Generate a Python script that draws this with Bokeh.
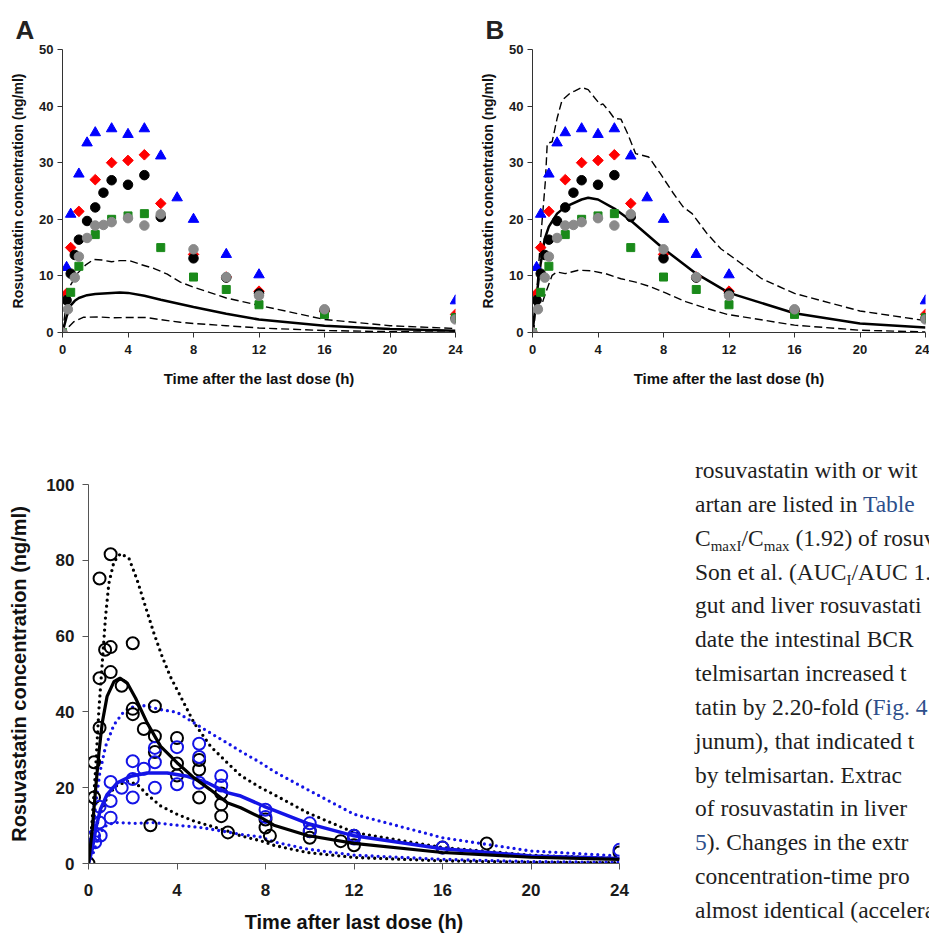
from bokeh.plotting import figure
from bokeh.models import Div, FixedTicker
from bokeh.layouts import row, column
from bokeh.embed import file_html
from bokeh.resources import INLINE

# ---------------- data: panels A and B (observed, 5 subjects) ----------------
blue_t = [0.25, 0.5, 1, 1.5, 2, 3, 4, 5, 6, 7, 8, 10, 12, 24]
blue_y = [11.5, 20.9, 28.0, 33.5, 35.3, 36.0, 35.0, 36.0, 31.2, 23.8, 20.0, 13.8, 10.2, 5.6]
red_t = [0, 0.25, 0.5, 1, 2, 3, 4, 5, 6, 8, 10, 12, 16, 24]
red_y = [0, 6.9, 15.0, 21.4, 27.0, 30.0, 30.4, 31.4, 22.8, 13.8, 9.8, 7.3, 3.8, 3.2]
black_t = [0.25, 0.5, 0.75, 1, 1.5, 2, 2.5, 3, 4, 5, 6, 8, 10, 12, 16, 24]
black_y = [5.7, 10.4, 13.7, 16.4, 19.7, 22.1, 24.7, 26.9, 26.1, 27.8, 20.4, 13.1, 9.7, 6.9, 3.9, 2.5]
green_t = [0, 0.5, 1, 2, 3, 4, 5, 6, 8, 10, 12, 16, 24]
green_y = [0, 7.1, 11.7, 17.3, 20.0, 20.6, 21.0, 15.0, 9.8, 7.6, 4.9, 3.2, 2.6]
gray_t = [0, 0.33, 0.75, 1, 1.5, 2, 2.5, 3, 4, 5, 6, 8, 10, 12, 16, 24]
gray_y = [0, 4.1, 9.7, 13.4, 16.7, 18.9, 19.0, 19.5, 20.2, 18.9, 20.9, 14.7, 9.8, 6.5, 4.1, 2.3]

# panel A predictions
a_mean_t = [0, 0.25, 0.5, 0.75, 1, 1.5, 2, 3, 3.5, 4, 5, 6, 8, 10, 12, 16, 20, 24]
a_mean_y = [0, 2.8, 4.8, 5.6, 6.1, 6.6, 6.8, 7.0, 7.05, 7.0, 6.5, 5.8, 4.5, 3.3, 2.3, 1.2, 0.6, 0.3]
a_hi_t = [0, 0.25, 0.5, 0.9, 1.4, 1.9, 2.4, 3.0, 3.5, 4.1, 4.8, 5.6, 6.4, 7.2, 8, 10, 12, 16, 20, 24]
a_hi_y = [0, 5.5, 8.4, 10.4, 11.9, 12.9, 12.8, 12.5, 12.7, 12.7, 12.0, 11.3, 10.3, 8.9, 8.0, 6.1, 4.8, 2.3, 1.2, 0.7]
a_lo_t = [0.39, 0.69, 1.3, 2.2, 3, 3.9, 5.1, 5.9, 7.2, 8, 10, 12, 16, 20, 24]
a_lo_y = [1.0, 1.9, 2.7, 2.75, 2.6, 2.65, 2.65, 2.3, 1.8, 1.6, 1.2, 0.8, 0.35, 0.15, 0.05]

# panel B predictions
b_mean_t = [0, 0.25, 0.5, 0.75, 1, 1.5, 2, 3, 3.4, 4, 5, 6, 8, 10, 12, 16, 20, 24]
b_mean_y = [0, 6.5, 12.2, 16.6, 18.7, 21.0, 22.2, 23.5, 23.8, 23.5, 21.9, 19.8, 14.8, 10.4, 7.0, 3.4, 1.6, 0.9]
b_hi_t = [0, 0.08, 0.49, 0.79, 0.9, 1.2, 1.5, 1.8, 2.3, 2.6, 3.0, 3.4, 4.15, 4.3, 4.7, 5.0, 5.4,
          5.8, 6.3, 7.1, 7.8, 8.6, 9.2, 9.75, 10.65, 11.5, 12.6, 14, 16, 20, 24]
b_hi_y = [0, 0.4, 16.3, 26.9, 33.4, 33.7, 37.8, 41.0, 42.3, 42.7, 43.3, 42.9, 40.2, 40.4, 39.0, 37.8, 37.7,
          35.2, 31.6, 31.0, 28.1, 24.6, 22.2, 21.0, 17.5, 14.8, 12.5, 9.5, 6.9, 3.8, 2.1]
b_lo_t = [0.39, 0.79, 1.2, 1.5, 2.0, 2.8, 3.6, 4.46, 5.4, 6.3, 7.2, 8.2, 9.4, 10.7, 11.9, 16, 20, 24]
b_lo_y = [3.4, 6.9, 10.1, 10.7, 10.4, 11.0, 10.9, 10.4, 9.5, 8.9, 8.1, 6.9, 5.4, 4.2, 3.2, 1.3, 0.4, 0.1]

# ---------------- data: bottom panel ----------------
ck_t = [0, 0.25, 0.25, 0.5, 0.5, 0.5, 0.75, 1, 1, 1, 1.5, 2, 2, 2, 2.5, 3, 3, 3, 2.8, 4, 4, 4,
        5, 5, 5, 6, 6, 6, 6.3, 8, 8, 8.2, 10, 10, 11.4, 12, 12, 16, 18, 24]
ck_y = [0, 26.7, 17.4, 75.2, 48.9, 35.8, 56.4, 57.1, 81.6, 50.5, 46.9, 58.1, 40.8, 39.4, 35.5, 41.5, 33.6, 29.4, 10.1, 33.1, 26.4, 23.2,
        27.3, 24.8, 17.4, 18.5, 15.6, 12.5, 8.2, 11.6, 9.5, 7.3, 8.5, 6.8, 5.9, 7.3, 4.8, 4.2, 5.3, 2.9]
cb_t = [0.25, 0.3, 0.5, 0.5, 0.55, 1, 1, 1, 1.5, 2, 2, 2, 2.5, 3, 3, 3, 4, 4, 5, 5, 5, 6, 6,
        8, 8, 10, 10, 12, 12, 16, 24]
cb_y = [7.3, 5.6, 15.0, 10.8, 7.4, 12.1, 21.5, 16.5, 20.0, 27.0, 22.3, 17.4, 25.0, 30.5, 26.7, 20.0, 30.7, 20.9, 31.6, 28.1, 21.3, 23.1, 20.6,
        14.2, 12.3, 10.6, 8.6, 7.3, 6.6, 4.2, 3.6]

ck_mean_t = [0, 0.17, 0.32, 0.47, 0.62, 0.84, 1.15, 1.42, 1.75, 2.13, 2.65, 3.26, 4.0, 4.77, 5.5, 6.27, 6.88, 7.8, 8.38, 9.9, 12, 16, 20, 24]
ck_mean_y = [0, 9.0, 19.5, 29.2, 37.1, 44.1, 48.0, 48.9, 47.6, 43.6, 37.1, 30.9, 26.6, 22.6, 19.5, 16.0, 14.7, 12.1, 10.1, 7.4, 5.3, 2.9, 1.65, 1.1]
cb_mean_t = [0, 0.17, 0.32, 0.54, 0.84, 1.3, 1.9, 2.65, 3.56, 4.46, 5.37, 6.27, 6.88, 7.93, 9.9, 12, 16, 20, 24]
cb_mean_y = [0, 3.8, 9.0, 14.3, 18.2, 21.3, 23.0, 23.9, 23.9, 23.0, 21.3, 18.7, 17.8, 15.1, 10.6, 7.3, 3.9, 2.0, 1.3]
ck_hi_t = [0, 0.17, 0.32, 0.47, 0.62, 0.77, 0.92, 1.15, 1.45, 1.83, 2.2, 2.58, 2.96, 3.33, 3.7, 4.16, 4.77, 5.52, 6.27, 6.88, 7.78, 8.38, 9.9, 12, 16, 20, 24]
ck_hi_y = [0, 11.7, 24.8, 40.6, 52.8, 65.1, 73.9, 79.6, 81.8, 80.5, 74.8, 67.7, 60.7, 54.6, 49.3, 44.1, 37.1, 30.9, 26.6, 23.2, 20.0, 18.2, 13.4, 8.2, 4.2, 2.2, 1.3]
ck_lo_t = [0, 0.17, 0.32, 0.54, 0.84, 1.22, 1.75, 2.2, 2.65, 3.26, 4.0, 4.77, 5.52, 6.27, 6.88, 7.78, 8.38, 9.9, 12, 16, 20, 24]
ck_lo_y = [0, 4.6, 9.0, 13.4, 17.4, 20.4, 21.7, 20.9, 18.2, 15.2, 13.0, 11.2, 9.9, 8.6, 7.3, 6.0, 4.8, 2.9, 1.6, 0.7, 0.3, 0.2]
cb_hi_t = [0, 0.17, 0.32, 0.51, 0.77, 1.15, 1.6, 2.2, 2.65, 3.26, 4.0, 4.77, 5.52, 6.27, 6.88, 7.78, 8.38, 9.9, 12, 16, 20, 24]
cb_hi_y = [0, 6.4, 15.2, 23.9, 30.9, 36.6, 40.1, 41.9, 41.5, 40.6, 39.9, 37.1, 34.4, 31.8, 29.6, 26.6, 24.3, 19.5, 13.0, 6.8, 3.3, 2.0]
cb_lo_t = [0, 0.17, 0.32, 0.54, 0.84, 1.3, 2.05, 2.96, 4.0, 5.07, 6.0, 6.88, 7.78, 8.38, 9.9, 12, 16, 20, 24]
cb_lo_y = [0, 2.0, 4.6, 8.2, 10.3, 10.8, 10.6, 10.8, 10.1, 9.5, 8.6, 7.7, 7.0, 5.7, 3.8, 2.2, 1.1, 0.5, 0.3]

x_ticks = [0, 4, 8, 12, 16, 20, 24]
y_ticks_ab = [0, 10, 20, 30, 40, 50]
y_ticks_c = [0, 20, 40, 60, 80, 100]

SANS = "Liberation Sans"
NARROW = "'Liberation Sans Narrow', 'Arial Narrow', 'Liberation Sans'"


def style_axes(p, font, tick_size, xlabel_size, ylabel_size, tick_out, lab_stand_x, lab_stand_y,
               ax_stand_x, ax_stand_y, line_color):
    for ax in (p.xaxis[0], p.yaxis[0]):
        ax.major_label_text_font = font
        ax.major_label_text_font_style = "bold"
        ax.major_label_text_font_size = tick_size
        ax.major_label_text_color = "#1a1a1a"
        ax.axis_label_text_font = font
        ax.axis_label_text_font_style = "bold"
        ax.axis_label_text_color = "#111111"
        ax.axis_line_color = line_color
        ax.major_tick_line_color = line_color
        ax.major_tick_in = 0
        ax.major_tick_out = tick_out
        ax.minor_tick_line_color = None
    p.xaxis[0].axis_label_text_font_size = xlabel_size
    p.yaxis[0].axis_label_text_font_size = ylabel_size
    p.xaxis[0].major_label_standoff = lab_stand_x
    p.yaxis[0].major_label_standoff = lab_stand_y
    p.xaxis[0].axis_label_standoff = ax_stand_x
    p.yaxis[0].axis_label_standoff = ax_stand_y
    p.xgrid.grid_line_color = None
    p.ygrid.grid_line_color = None
    p.outline_line_color = None


def make_ab(letter, width, bl, br, mean_t, mean_y, hi_t, hi_y, lo_t, lo_y):
    p = figure(width=width, height=408, x_range=(0, 24), y_range=(0, 50),
               output_backend="svg", toolbar_location=None,
               min_border_left=bl, min_border_right=br, min_border_top=49, min_border_bottom=76,
               title=letter)
    p.title.text_font = SANS
    p.title.text_font_size = "26px"
    p.title.text_font_style = "bold"
    p.title.text_color = "#222222"
    p.title.align = "left"
    p.title.offset = -47
    p.xaxis.axis_label = "Time after the last dose (h)"
    p.yaxis.axis_label = "Rosuvastatin concentration (ng/ml)"
    p.xaxis.ticker = FixedTicker(ticks=x_ticks)
    p.yaxis.ticker = FixedTicker(ticks=y_ticks_ab)
    style_axes(p, SANS, "13px", "15px", "14px", 5, 7, 4, 13, 10, "#333333")

    p.line(hi_t, hi_y, line_color="black", line_width=1.4, line_dash="8 4")
    p.line(lo_t, lo_y, line_color="black", line_width=1.4, line_dash="8 4")
    p.line(mean_t, mean_y, line_color="black", line_width=2.5)

    p.scatter(blue_t, blue_y, marker="triangle", size=10.5, fill_color="#0000ff", line_color="#0000ff")
    p.scatter(red_t, red_y, marker="square", size=7.5, angle=0.785, fill_color="#ff0000", line_color="#ff0000")
    p.scatter(black_t, black_y, marker="circle", size=9.5, fill_color="black", line_color="black")
    p.scatter(green_t, green_y, marker="square", size=8, fill_color="#1a8a1a", line_color="#1a8a1a")
    p.scatter(gray_t, gray_y, marker="circle", size=9.5, fill_color="#8a8a8a", line_color="#8a8a8a")
    return p


pA = make_ab("A", 470, 62, 15, a_mean_t, a_mean_y, a_hi_t, a_hi_y, a_lo_t, a_lo_y)
pB = make_ab("B", 459, 62, 4, b_mean_t, b_mean_y, b_hi_t, b_hi_y, b_lo_t, b_lo_y)

# ---------------- bottom panel ----------------
pC = figure(width=680, height=527, x_range=(0, 24), y_range=(0, 100),
            output_backend="svg", toolbar_location=None,
            min_border_left=88, min_border_right=61, min_border_top=76, min_border_bottom=72)
pC.xaxis.axis_label = "Time after last dose (h)"
pC.yaxis.axis_label = "Rosuvastatin concentration (ng/ml)"
pC.xaxis.ticker = FixedTicker(ticks=x_ticks)
pC.yaxis.ticker = FixedTicker(ticks=y_ticks_c)
style_axes(pC, NARROW, "17px", "20px", "20px", 6, 14, 8, 12, 13, "#555555")

DOT = dict(line_width=3.3, line_dash="0 6", line_cap="round")
pC.line(ck_hi_t, ck_hi_y, line_color="black", **DOT)
pC.line(ck_lo_t, ck_lo_y, line_color="black", **DOT)
pC.line(cb_hi_t, cb_hi_y, line_color="#1414e6", **DOT)
pC.line(cb_lo_t, cb_lo_y, line_color="#1414e6", **DOT)
pC.scatter(ck_t, ck_y, marker="circle", size=12, fill_color=None, line_color="black", line_width=2)
pC.scatter(cb_t, cb_y, marker="circle", size=12, fill_color=None, line_color="#1414e6", line_width=2)
pC.line(cb_mean_t, cb_mean_y, line_color="#1414e6", line_width=3.5)
pC.line(ck_mean_t, ck_mean_y, line_color="black", line_width=3.2)

# ---------------- body text beside the bottom panel (cut at the page edge) ----------------
LINK = "color:#2e4f8c"
SUB = "font-size:15px;line-height:0;vertical-align:-0.3em"
text_lines = [
    "rosuvastatin with or wit",
    "artan are listed in <span style='%s'>Table</span>" % LINK,
    "C<sub style='%s'>maxI</sub>/C<sub style='%s'>max</sub> (1.92) of rosuv" % (SUB, SUB),
    "Son et al. (AUC<sub style='%s'>I</sub>/AUC 1." % SUB,
    "gut and liver rosuvastati",
    "date the intestinal BCR",
    "telmisartan increased t",
    "tatin by 2.20-fold (<span style='%s'>Fig. 4</span>" % LINK,
    "junum), that indicated t",
    "by telmisartan. Extrac",
    "of rosuvastatin in liver",
    "<span style='%s'>5</span>). Changes in the extr" % LINK,
    "concentration-time pro",
    "almost identical (accelera",
]
html = ("<div style=\"font-family:'Liberation Serif','DejaVu Serif',serif;font-size:23.5px;"
        "line-height:33.85px;color:#1e1e1e;white-space:nowrap;padding:41px 0 0 10px;\">"
        + "<br>".join(text_lines) + "</div>")
div = Div(text=html, width=249, height=527,
          styles={"overflow": "hidden", "white-space": "nowrap"})

layout = column(row(pA, pB), row(pC, div))

open("out.html", "w").write(file_html(layout, INLINE))
